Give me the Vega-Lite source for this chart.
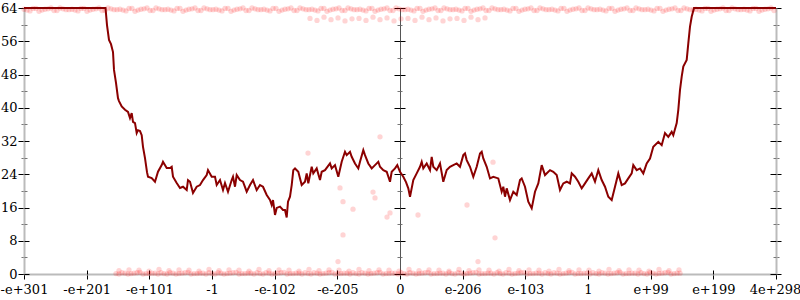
{
"$schema": "https://vega.github.io/schema/vega-lite/v6.json",
"width": 752, "height": 266,
"autosize": {"type": "none"},
"padding": {"left": 24, "top": 8, "right": 24, "bottom": 26},
"background": "white",
"config": {"view": {"stroke": null}, "axis": {"labelFont": "DejaVu Serif", "labelFontSize": 13, "labelColor": "#000", "title": null, "grid": false}},
"datasets": {
"curve": [{"p":0,"e":64},{"p":81.5,"e":64},{"p":83,"e":59.9},{"p":85,"e":56.3},{"p":87,"e":55.3},{"p":89,"e":53.4},{"p":90,"e":49.1},{"p":92,"e":46},{"p":94,"e":42.3},{"p":95,"e":41.6},{"p":97.7,"e":40.3},{"p":101,"e":39.5},{"p":104,"e":39},{"p":106,"e":37.5},{"p":107.7,"e":38.7},{"p":109,"e":36.6},{"p":111,"e":36.3},{"p":112.7,"e":33.9},{"p":114,"e":34.6},{"p":116,"e":34.4},{"p":117.7,"e":33.4},{"p":119,"e":30.6},{"p":121,"e":27.9},{"p":123,"e":24.5},{"p":124,"e":23.4},{"p":127.7,"e":23.1},{"p":131,"e":22.2},{"p":134,"e":24.6},{"p":137.7,"e":26.2},{"p":139,"e":27},{"p":142.7,"e":25.5},{"p":146,"e":25.5},{"p":147.7,"e":25.8},{"p":149,"e":23.4},{"p":152.7,"e":21.9},{"p":156,"e":20.7},{"p":159,"e":21},{"p":162.7,"e":20.2},{"p":164,"e":22.6},{"p":166,"e":22.2},{"p":169,"e":19.5},{"p":172.7,"e":21},{"p":176,"e":21.4},{"p":179,"e":22.6},{"p":182.7,"e":23.8},{"p":184,"e":25},{"p":187.7,"e":23.4},{"p":191,"e":23.4},{"p":192.7,"e":21.4},{"p":196,"e":22.6},{"p":199,"e":20.2},{"p":201,"e":21.9},{"p":204,"e":19.8},{"p":207.7,"e":22.6},{"p":209,"e":23.4},{"p":211,"e":21},{"p":212.7,"e":23.8},{"p":216,"e":22.6},{"p":219,"e":22.2},{"p":222.7,"e":19.8},{"p":226,"e":21.4},{"p":229,"e":22.6},{"p":232.7,"e":20.2},{"p":236,"e":21.4},{"p":239,"e":21},{"p":242.7,"e":19},{"p":246,"e":17.8},{"p":247.7,"e":16.6},{"p":249,"e":17.8},{"p":251,"e":14.2},{"p":252.7,"e":15.9},{"p":256,"e":16.2},{"p":259,"e":15.4},{"p":261,"e":15.4},{"p":262.7,"e":13.6},{"p":264,"e":17.4},{"p":266,"e":18.6},{"p":267.7,"e":21.4},{"p":269.3,"e":25},{"p":271,"e":25.4},{"p":274.3,"e":24.6},{"p":277.7,"e":21.4},{"p":281,"e":22.2},{"p":282.7,"e":24.2},{"p":284.3,"e":21.8},{"p":287.7,"e":25.8},{"p":289.3,"e":24.2},{"p":292.7,"e":25.4},{"p":296,"e":22.6},{"p":297.7,"e":24.6},{"p":301,"e":25},{"p":306,"e":26.6},{"p":307.7,"e":25.4},{"p":311,"e":26.2},{"p":314.3,"e":23.4},{"p":317.7,"e":27},{"p":321,"e":29.4},{"p":322.7,"e":28.6},{"p":326,"e":29.4},{"p":327.7,"e":28.2},{"p":331,"e":26.6},{"p":334.3,"e":25.4},{"p":336,"e":27},{"p":339.3,"e":29.8},{"p":341,"e":28.6},{"p":344.3,"e":26.6},{"p":347.7,"e":25.4},{"p":351,"e":26.2},{"p":354.3,"e":27},{"p":356,"e":25.8},{"p":359.3,"e":25},{"p":362.7,"e":24.6},{"p":366,"e":22.2},{"p":367.7,"e":24.6},{"p":371,"e":25.4},{"p":373.3,"e":26.2},{"p":376,"e":24.6},{"p":379.3,"e":23.4},{"p":382,"e":22.1},{"p":384.3,"e":20.6},{"p":386,"e":18.6},{"p":389.3,"e":22.6},{"p":392.7,"e":24.2},{"p":396,"e":25.8},{"p":397.7,"e":27},{"p":399.3,"e":25.4},{"p":402.7,"e":26.6},{"p":406,"e":25},{"p":407.7,"e":28.2},{"p":409.3,"e":25.8},{"p":412.7,"e":25},{"p":416,"e":26.6},{"p":419.3,"e":22.2},{"p":422.7,"e":25},{"p":426,"e":25.8},{"p":429.3,"e":26.2},{"p":432.7,"e":26.6},{"p":436,"e":25.8},{"p":439.3,"e":28.6},{"p":441,"e":29},{"p":442.7,"e":27.4},{"p":446,"e":25.8},{"p":449.3,"e":23.4},{"p":452.7,"e":25.8},{"p":456,"e":29},{"p":457.7,"e":29.4},{"p":459.3,"e":27.8},{"p":462.7,"e":25.8},{"p":466,"e":23},{"p":469.3,"e":23.4},{"p":474.3,"e":23},{"p":477.7,"e":19.8},{"p":479.3,"e":21},{"p":481,"e":18.6},{"p":482.7,"e":20.6},{"p":486,"e":17.8},{"p":489.3,"e":19.8},{"p":492.7,"e":19},{"p":496,"e":22.6},{"p":497.7,"e":23},{"p":501,"e":21},{"p":504.3,"e":17.4},{"p":507.7,"e":15.8},{"p":511,"e":19.8},{"p":514.3,"e":21.8},{"p":517.7,"e":26.2},{"p":521,"e":23.8},{"p":526,"e":25},{"p":529.3,"e":24.6},{"p":532.7,"e":23.8},{"p":536,"e":20.2},{"p":539.3,"e":21.8},{"p":542.7,"e":22.2},{"p":546,"e":21.8},{"p":547.7,"e":24.2},{"p":551,"e":23.4},{"p":554.3,"e":22.2},{"p":557.7,"e":20.6},{"p":561,"e":21.8},{"p":564.3,"e":23},{"p":567.7,"e":24.2},{"p":571,"e":22.2},{"p":574.3,"e":25},{"p":577.7,"e":22.6},{"p":581,"e":21},{"p":584.3,"e":18.6},{"p":587.7,"e":17.8},{"p":591,"e":21},{"p":594.3,"e":24.2},{"p":597.7,"e":21.4},{"p":601,"e":21.8},{"p":604.3,"e":23},{"p":607.7,"e":24.2},{"p":609.3,"e":26.2},{"p":612.7,"e":25},{"p":616,"e":25.4},{"p":619.3,"e":24.2},{"p":622.7,"e":26.6},{"p":626,"e":27.8},{"p":629.3,"e":30.6},{"p":634.3,"e":31.8},{"p":637.7,"e":31},{"p":641,"e":33.9},{"p":644.3,"e":33},{"p":647.7,"e":34.2},{"p":649.3,"e":33.4},{"p":652.7,"e":36.3},{"p":654.3,"e":39.5},{"p":656,"e":44.3},{"p":657.7,"e":47.5},{"p":659.3,"e":49.9},{"p":662.7,"e":51.5},{"p":664.3,"e":55.5},{"p":666,"e":59.5},{"p":667.7,"e":61.9},{"p":670,"e":64},{"p":752,"e":64}],
"pts": [
{"p":0,"e":63.7},{"p":6,"e":63.3},{"p":12,"e":63.9},{"p":18,"e":63.5},{"p":24,"e":63.8},{"p":30,"e":63.4},{"p":36,"e":64},{"p":42,"e":63.6},
{"p":48,"e":63.7},{"p":54,"e":63.3},{"p":60,"e":63.9},{"p":66,"e":63.5},{"p":72,"e":63.8},{"p":78,"e":63.4},{"p":84,"e":64},{"p":90,"e":63.6},
{"p":96,"e":63.7},{"p":102,"e":63.3},{"p":108,"e":63.9},{"p":114,"e":63.5},{"p":120,"e":63.8},{"p":126,"e":63.4},{"p":132,"e":64},{"p":138,"e":63.6},
{"p":144,"e":63.7},{"p":150,"e":63.3},{"p":156,"e":63.9},{"p":162,"e":63.5},{"p":168,"e":63.8},{"p":174,"e":63.4},{"p":180,"e":64},{"p":186,"e":63.6},
{"p":192,"e":63.7},{"p":198,"e":63.3},{"p":204,"e":63.9},{"p":210,"e":63.5},{"p":216,"e":63.8},{"p":222,"e":63.4},{"p":228,"e":64},{"p":234,"e":63.6},
{"p":240,"e":63.7},{"p":246,"e":63.3},{"p":252,"e":63.9},{"p":258,"e":63.5},{"p":264,"e":63.8},{"p":270,"e":63.4},{"p":276,"e":64},{"p":282,"e":63.6},
{"p":288,"e":63.7},{"p":294,"e":63.3},{"p":300,"e":63.9},{"p":306,"e":63.5},{"p":312,"e":63.8},{"p":318,"e":63.4},{"p":324,"e":64},{"p":330,"e":63.6},
{"p":336,"e":63.7},{"p":342,"e":63.3},{"p":348,"e":63.9},{"p":354,"e":63.5},{"p":360,"e":63.8},{"p":366,"e":63.4},{"p":372,"e":64},{"p":378,"e":63.6},
{"p":384,"e":63.7},{"p":390,"e":63.3},{"p":396,"e":63.9},{"p":402,"e":63.5},{"p":408,"e":63.8},{"p":414,"e":63.4},{"p":420,"e":64},{"p":426,"e":63.6},
{"p":432,"e":63.7},{"p":438,"e":63.3},{"p":444,"e":63.9},{"p":450,"e":63.5},{"p":456,"e":63.8},{"p":462,"e":63.4},{"p":468,"e":64},{"p":474,"e":63.6},
{"p":480,"e":63.7},{"p":486,"e":63.3},{"p":492,"e":63.9},{"p":498,"e":63.5},{"p":504,"e":63.8},{"p":510,"e":63.4},{"p":516,"e":64},{"p":522,"e":63.6},
{"p":528,"e":63.7},{"p":534,"e":63.3},{"p":540,"e":63.9},{"p":546,"e":63.5},{"p":552,"e":63.8},{"p":558,"e":63.4},{"p":564,"e":64},{"p":570,"e":63.6},
{"p":576,"e":63.7},{"p":582,"e":63.3},{"p":588,"e":63.9},{"p":594,"e":63.5},{"p":600,"e":63.8},{"p":606,"e":63.4},{"p":612,"e":64},{"p":618,"e":63.6},
{"p":624,"e":63.7},{"p":630,"e":63.3},{"p":636,"e":63.9},{"p":642,"e":63.5},{"p":648,"e":63.8},{"p":654,"e":63.4},{"p":660,"e":64},{"p":666,"e":63.6},
{"p":672,"e":63.7},{"p":678,"e":63.3},{"p":684,"e":63.9},{"p":690,"e":63.5},{"p":696,"e":63.8},{"p":702,"e":63.4},{"p":708,"e":64},{"p":714,"e":63.6},
{"p":720,"e":63.7},{"p":726,"e":63.3},{"p":732,"e":63.9},{"p":738,"e":63.5},{"p":744,"e":63.8},{"p":750,"e":63.4},
{"p":3,"e":63.5},{"p":9,"e":63.9},{"p":15,"e":63.2},{"p":21,"e":63.7},{"p":27,"e":64},{"p":33,"e":63.4},{"p":39,"e":63.8},{"p":45,"e":63.6},
{"p":51,"e":63.5},{"p":57,"e":63.9},{"p":63,"e":63.2},{"p":69,"e":63.7},{"p":75,"e":64},{"p":81,"e":63.4},{"p":87,"e":63.8},{"p":93,"e":63.6},
{"p":99,"e":63.5},{"p":105,"e":63.9},{"p":111,"e":63.2},{"p":117,"e":63.7},{"p":123,"e":64},{"p":129,"e":63.4},{"p":135,"e":63.8},{"p":141,"e":63.6},
{"p":147,"e":63.5},{"p":153,"e":63.9},{"p":159,"e":63.2},{"p":165,"e":63.7},{"p":171,"e":64},{"p":177,"e":63.4},{"p":183,"e":63.8},{"p":189,"e":63.6},
{"p":195,"e":63.5},{"p":201,"e":63.9},{"p":207,"e":63.2},{"p":213,"e":63.7},{"p":219,"e":64},{"p":225,"e":63.4},{"p":231,"e":63.8},{"p":237,"e":63.6},
{"p":243,"e":63.5},{"p":249,"e":63.9},{"p":255,"e":63.2},{"p":261,"e":63.7},{"p":267,"e":64},{"p":273,"e":63.4},{"p":279,"e":63.8},{"p":285,"e":63.6},
{"p":291,"e":63.5},{"p":297,"e":63.9},{"p":303,"e":63.2},{"p":309,"e":63.7},{"p":315,"e":64},{"p":321,"e":63.4},{"p":327,"e":63.8},{"p":333,"e":63.6},
{"p":339,"e":63.5},{"p":345,"e":63.9},{"p":351,"e":63.2},{"p":357,"e":63.7},{"p":363,"e":64},{"p":369,"e":63.4},{"p":375,"e":63.8},{"p":381,"e":63.6},
{"p":387,"e":63.5},{"p":393,"e":63.9},{"p":399,"e":63.2},{"p":405,"e":63.7},{"p":411,"e":64},{"p":417,"e":63.4},{"p":423,"e":63.8},{"p":429,"e":63.6},
{"p":435,"e":63.5},{"p":441,"e":63.9},{"p":447,"e":63.2},{"p":453,"e":63.7},{"p":459,"e":64},{"p":465,"e":63.4},{"p":471,"e":63.8},{"p":477,"e":63.6},
{"p":483,"e":63.5},{"p":489,"e":63.9},{"p":495,"e":63.2},{"p":501,"e":63.7},{"p":507,"e":64},{"p":513,"e":63.4},{"p":519,"e":63.8},{"p":525,"e":63.6},
{"p":531,"e":63.5},{"p":537,"e":63.9},{"p":543,"e":63.2},{"p":549,"e":63.7},{"p":555,"e":64},{"p":561,"e":63.4},{"p":567,"e":63.8},{"p":573,"e":63.6},
{"p":579,"e":63.5},{"p":585,"e":63.9},{"p":591,"e":63.2},{"p":597,"e":63.7},{"p":603,"e":64},{"p":609,"e":63.4},{"p":615,"e":63.8},{"p":621,"e":63.6},
{"p":627,"e":63.5},{"p":633,"e":63.9},{"p":639,"e":63.2},{"p":645,"e":63.7},{"p":651,"e":64},{"p":657,"e":63.4},{"p":663,"e":63.8},{"p":669,"e":63.6},
{"p":675,"e":63.5},{"p":681,"e":63.9},{"p":687,"e":63.2},{"p":693,"e":63.7},{"p":699,"e":64},{"p":705,"e":63.4},{"p":711,"e":63.8},{"p":717,"e":63.6},
{"p":723,"e":63.5},{"p":729,"e":63.9},{"p":735,"e":63.2},{"p":741,"e":63.7},{"p":747,"e":64},
{"p":92,"e":0.1},{"p":98,"e":0.3},{"p":104,"e":0},{"p":110,"e":0.2},{"p":116,"e":0.4},{"p":122,"e":0.1},{"p":128,"e":0.2},{"p":134,"e":0},
{"p":140,"e":0.1},{"p":146,"e":0.3},{"p":152,"e":0},{"p":158,"e":0.2},{"p":164,"e":0.4},{"p":170,"e":0.1},{"p":176,"e":0.2},{"p":182,"e":0},
{"p":188,"e":0.1},{"p":194,"e":0.3},{"p":200,"e":0},{"p":206,"e":0.2},{"p":212,"e":0.4},{"p":218,"e":0.1},{"p":224,"e":0.2},{"p":230,"e":0},
{"p":236,"e":0.1},{"p":242,"e":0.3},{"p":248,"e":0},{"p":254,"e":0.2},{"p":260,"e":0.4},{"p":266,"e":0.1},{"p":272,"e":0.2},{"p":278,"e":0},
{"p":284,"e":0.1},{"p":290,"e":0.3},{"p":296,"e":0},{"p":302,"e":0.2},{"p":308,"e":0.4},{"p":314,"e":0.1},{"p":320,"e":0.2},{"p":326,"e":0},
{"p":332,"e":0.1},{"p":338,"e":0.3},{"p":344,"e":0},{"p":350,"e":0.2},{"p":356,"e":0.4},{"p":362,"e":0.1},{"p":368,"e":0.2},{"p":374,"e":0},
{"p":380,"e":0.1},{"p":386,"e":0.3},{"p":392,"e":0},{"p":398,"e":0.2},{"p":404,"e":0.4},{"p":410,"e":0.1},{"p":416,"e":0.2},{"p":422,"e":0},
{"p":428,"e":0.1},{"p":434,"e":0.3},{"p":440,"e":0},{"p":446,"e":0.2},{"p":452,"e":0.4},{"p":458,"e":0.1},{"p":464,"e":0.2},{"p":470,"e":0},
{"p":476,"e":0.1},{"p":482,"e":0.3},{"p":488,"e":0},{"p":494,"e":0.2},{"p":500,"e":0.4},{"p":506,"e":0.1},{"p":512,"e":0.2},{"p":518,"e":0},
{"p":524,"e":0.1},{"p":530,"e":0.3},{"p":536,"e":0},{"p":542,"e":0.2},{"p":548,"e":0.4},{"p":554,"e":0.1},{"p":560,"e":0.2},{"p":566,"e":0},
{"p":572,"e":0.1},{"p":578,"e":0.3},{"p":584,"e":0},{"p":590,"e":0.2},{"p":596,"e":0.4},{"p":602,"e":0.1},{"p":608,"e":0.2},{"p":614,"e":0},
{"p":620,"e":0.1},{"p":626,"e":0.3},{"p":632,"e":0},{"p":638,"e":0.2},{"p":644,"e":0.4},{"p":650,"e":0.1},{"p":656,"e":0.2},
{"p":95,"e":0},{"p":101,"e":0.2},{"p":107,"e":0.1},{"p":113,"e":0.3},{"p":119,"e":0},{"p":125,"e":0.1},{"p":131,"e":0.2},{"p":137,"e":0.3},
{"p":143,"e":0},{"p":149,"e":0.2},{"p":155,"e":0.1},{"p":161,"e":0.3},{"p":167,"e":0},{"p":173,"e":0.1},{"p":179,"e":0.2},{"p":185,"e":0.3},
{"p":191,"e":0},{"p":197,"e":0.2},{"p":203,"e":0.1},{"p":209,"e":0.3},{"p":215,"e":0},{"p":221,"e":0.1},{"p":227,"e":0.2},{"p":233,"e":0.3},
{"p":239,"e":0},{"p":245,"e":0.2},{"p":251,"e":0.1},{"p":257,"e":0.3},{"p":263,"e":0},{"p":269,"e":0.1},{"p":275,"e":0.2},{"p":281,"e":0.3},
{"p":287,"e":0},{"p":293,"e":0.2},{"p":299,"e":0.1},{"p":305,"e":0.3},{"p":311,"e":0},{"p":317,"e":0.1},{"p":323,"e":0.2},{"p":329,"e":0.3},
{"p":335,"e":0},{"p":341,"e":0.2},{"p":347,"e":0.1},{"p":353,"e":0.3},{"p":359,"e":0},{"p":365,"e":0.1},{"p":371,"e":0.2},{"p":377,"e":0.3},
{"p":383,"e":0},{"p":389,"e":0.2},{"p":395,"e":0.1},{"p":401,"e":0.3},{"p":407,"e":0},{"p":413,"e":0.1},{"p":419,"e":0.2},{"p":425,"e":0.3},
{"p":431,"e":0},{"p":437,"e":0.2},{"p":443,"e":0.1},{"p":449,"e":0.3},{"p":455,"e":0},{"p":461,"e":0.1},{"p":467,"e":0.2},{"p":473,"e":0.3},
{"p":479,"e":0},{"p":485,"e":0.2},{"p":491,"e":0.1},{"p":497,"e":0.3},{"p":503,"e":0},{"p":509,"e":0.1},{"p":515,"e":0.2},{"p":521,"e":0.3},
{"p":527,"e":0},{"p":533,"e":0.2},{"p":539,"e":0.1},{"p":545,"e":0.3},{"p":551,"e":0},{"p":557,"e":0.1},{"p":563,"e":0.2},{"p":569,"e":0.3},
{"p":575,"e":0},{"p":581,"e":0.2},{"p":587,"e":0.1},{"p":593,"e":0.3},{"p":599,"e":0},{"p":605,"e":0.1},{"p":611,"e":0.2},{"p":617,"e":0.3},
{"p":623,"e":0},{"p":629,"e":0.2},{"p":635,"e":0.1},{"p":641,"e":0.3},{"p":647,"e":0},{"p":653,"e":0.2},
{"p":95,"e":0.8},{"p":105,"e":1},{"p":115,"e":0.9},{"p":125,"e":0.7},{"p":135,"e":1.1},{"p":145,"e":0.8},{"p":155,"e":1},{"p":165,"e":0.9},{"p":175,"e":0.7},{"p":185,"e":1.1},
{"p":195,"e":0.8},{"p":205,"e":1},{"p":215,"e":0.9},{"p":225,"e":0.7},{"p":235,"e":1.1},{"p":245,"e":0.8},{"p":255,"e":1},{"p":265,"e":0.9},{"p":275,"e":0.7},{"p":285,"e":1.1},
{"p":295,"e":0.8},{"p":305,"e":1},{"p":315,"e":0.9},{"p":325,"e":0.7},{"p":335,"e":1.1},{"p":345,"e":0.8},{"p":355,"e":1},{"p":365,"e":0.9},{"p":375,"e":0.7},{"p":385,"e":1.1},
{"p":395,"e":0.8},{"p":405,"e":1},{"p":415,"e":0.9},{"p":425,"e":0.7},{"p":435,"e":1.1},{"p":445,"e":0.8},{"p":455,"e":1},{"p":465,"e":0.9},{"p":475,"e":0.7},{"p":485,"e":1.1},
{"p":495,"e":0.8},{"p":505,"e":1},{"p":515,"e":0.9},{"p":525,"e":0.7},{"p":535,"e":1.1},{"p":545,"e":0.8},{"p":555,"e":1},{"p":565,"e":0.9},{"p":575,"e":0.7},{"p":585,"e":1.1},
{"p":595,"e":0.8},{"p":605,"e":1},{"p":615,"e":0.9},{"p":625,"e":0.7},{"p":635,"e":1.1},{"p":645,"e":0.8},{"p":655,"e":1},
{"p":286,"e":61.5},{"p":293,"e":61},{"p":300,"e":61.8},{"p":307,"e":61.2},{"p":314,"e":61.6},{"p":321,"e":60.9},{"p":328,"e":61.4},
{"p":335,"e":61.5},{"p":342,"e":61},{"p":349,"e":61.8},{"p":356,"e":61.2},{"p":363,"e":61.6},{"p":370,"e":60.9},{"p":377,"e":61.4},
{"p":384,"e":61.5},{"p":391,"e":61},{"p":398,"e":61.8},{"p":405,"e":61.2},{"p":412,"e":61.6},{"p":419,"e":60.9},{"p":426,"e":61.4},
{"p":433,"e":61.5},{"p":440,"e":61},{"p":447,"e":61.8},{"p":454,"e":61.2},{"p":461,"e":61.6},
{"p":284,"e":29.1},{"p":356,"e":33},{"p":316,"e":20.7},{"p":349,"e":19.7},{"p":351,"e":18.3},{"p":319,"e":17.4},{"p":329,"e":15.6},{"p":366,"e":14.7},{"p":363,"e":13.7},{"p":394,"e":14.2},{"p":443,"e":16.6},{"p":469,"e":26.9},{"p":471,"e":8.7},{"p":454,"e":3},{"p":319,"e":9.4},{"p":314,"e":3}
]
},
"resolve": {"axis": {"x": "independent", "y": "independent"}},
"layer": [
{"data": {"name": "pts"},
 "mark": {"type": "circle", "color": "#ff0000", "opacity": 0.17, "size": 28},
 "encoding": {
  "x": {"field": "p", "type": "quantitative", "scale": {"domain": [0, 752], "nice": false, "zero": false},
        "axis": {"orient": "bottom", "values": [0, 62.6667, 125.3333, 188, 250.6667, 313.3333, 376, 438.6667, 501.3333, 564, 626.6667, 689.3333, 752],
                 "labelExpr": "['-e+301','-e+201','-e+101','-1','-e-102','-e-205','0','e-206','e-103','1','e+99','e+199','4e+298'][round(datum.value/62.6667)]",
                 "labelOffset": {"condition": {"test": "datum.value > 750", "value": -1}, "value": 0},
                 "tickSize": 5, "tickColor": "#000", "domainColor": "#bbb", "domainWidth": 2, "labelPadding": 4, "labelFlush": false, "labelOverlap": false}},
  "y": {"field": "e", "type": "quantitative", "scale": {"domain": [0, 64], "nice": false, "zero": false},
        "axis": {"orient": "left", "values": [0,4,8,12,16,20,24,28,32,36,40,44,48,52,56,60,64],
                 "labelExpr": "datum.value % 8 === 0 ? datum.label : ''",
                 "tickSize": {"condition": {"test": "datum.value % 8 === 0", "value": 6}, "value": 3},
                 "tickColor": {"condition": {"test": "datum.value % 8 === 0", "value": "#000"}, "value": "#777"},
                 "domainColor": "#bbb", "domainWidth": 2, "labelPadding": 1, "labelOverlap": false}}
 }},
{"data": {"name": "curve"},
 "mark": {"type": "line", "color": "#8b0000", "strokeWidth": 2},
 "encoding": {
  "x": {"field": "p", "type": "quantitative", "scale": {"domain": [0, 752], "nice": false, "zero": false},
        "axis": {"orient": "bottom", "values": [0, 62.6667, 125.3333, 188, 250.6667, 313.3333, 376, 438.6667, 501.3333, 564, 626.6667, 689.3333, 752],
                 "tickSize": -4, "tickColor": "#000", "labels": false, "domain": false}},
  "y": {"field": "e", "type": "quantitative", "scale": {"domain": [0, 64], "nice": false, "zero": false},
        "axis": {"orient": "left", "values": [0,4,8,12,16,20,24,28,32,36,40,44,48,52,56,60,64], "labels": false, "domain": false,
                 "tickSize": {"condition": {"test": "datum.value % 8 === 0", "value": -5}, "value": -3},
                 "tickColor": {"condition": {"test": "datum.value % 8 === 0", "value": "#000"}, "value": "#777"}}}
 }},
{"data": {"name": "curve"},
 "mark": {"type": "line", "opacity": 0},
 "encoding": {
  "x": {"field": "p", "type": "quantitative", "scale": {"domain": [0, 752], "nice": false, "zero": false}, "axis": null},
  "y": {"field": "e", "type": "quantitative", "scale": {"domain": [0, 64], "nice": false, "zero": false},
        "axis": {"orient": "left", "offset": -376, "values": [0,4,8,12,16,20,24,28,32,36,40,44,48,52,56,60,64], "labels": false,
                 "domain": true, "domainColor": "#555", "domainWidth": 1,
                 "tickSize": {"condition": {"test": "datum.value % 8 === 0", "value": 6}, "value": 3},
                 "tickColor": {"condition": {"test": "datum.value % 8 === 0", "value": "#000"}, "value": "#777"}}}
 }},
{"data": {"name": "curve"},
 "mark": {"type": "line", "opacity": 0},
 "encoding": {
  "x": {"field": "p", "type": "quantitative", "scale": {"domain": [0, 752], "nice": false, "zero": false}, "axis": null},
  "y": {"field": "e", "type": "quantitative", "scale": {"domain": [0, 64], "nice": false, "zero": false},
        "axis": {"orient": "left", "offset": -376, "values": [0,4,8,12,16,20,24,28,32,36,40,44,48,52,56,60,64], "labels": false, "domain": false,
                 "tickSize": {"condition": {"test": "datum.value % 8 === 0", "value": -5}, "value": -2},
                 "tickColor": {"condition": {"test": "datum.value % 8 === 0", "value": "#000"}, "value": "#777"}}}
 }},
{"data": {"name": "curve"},
 "mark": {"type": "line", "opacity": 0},
 "encoding": {
  "x": {"field": "p", "type": "quantitative", "scale": {"domain": [0, 752], "nice": false, "zero": false}, "axis": null},
  "y": {"field": "e", "type": "quantitative", "scale": {"domain": [0, 64], "nice": false, "zero": false},
        "axis": {"orient": "right", "values": [0,4,8,12,16,20,24,28,32,36,40,44,48,52,56,60,64], "labels": false,
                 "domain": true, "domainColor": "#bbb", "domainWidth": 2,
                 "tickSize": {"condition": {"test": "datum.value % 8 === 0", "value": 5}, "value": 3},
                 "tickColor": {"condition": {"test": "datum.value % 8 === 0", "value": "#000"}, "value": "#777"}}}
 }},
{"data": {"name": "curve"},
 "mark": {"type": "line", "opacity": 0},
 "encoding": {
  "x": {"field": "p", "type": "quantitative", "scale": {"domain": [0, 752], "nice": false, "zero": false}, "axis": null},
  "y": {"field": "e", "type": "quantitative", "scale": {"domain": [0, 64], "nice": false, "zero": false},
        "axis": {"orient": "right", "values": [0,4,8,12,16,20,24,28,32,36,40,44,48,52,56,60,64], "labels": false, "domain": false,
                 "tickSize": {"condition": {"test": "datum.value % 8 === 0", "value": -6}, "value": -3},
                 "tickColor": {"condition": {"test": "datum.value % 8 === 0", "value": "#000"}, "value": "#777"}}}
 }}
]
}
